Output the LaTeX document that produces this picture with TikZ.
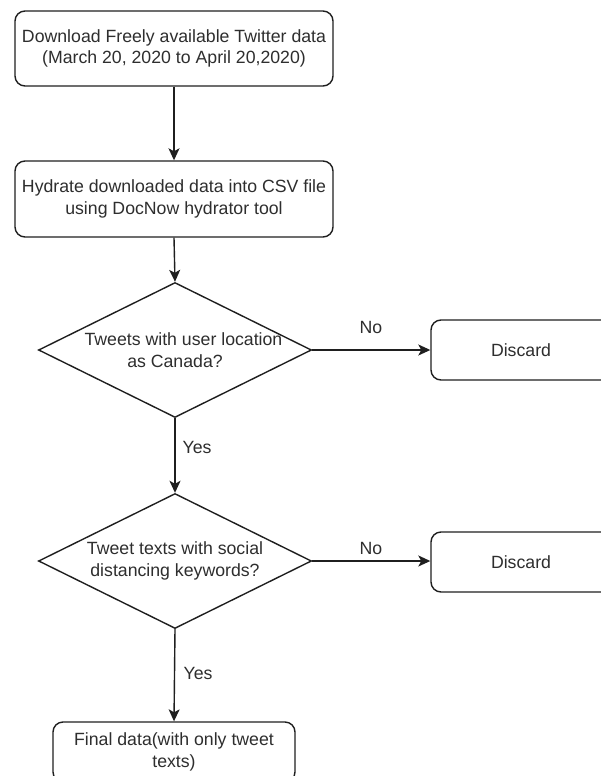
\documentclass[tikz,border=0pt]{standalone}
\usepackage{fontspec}
\setmainfont{Liberation Sans}
\usetikzlibrary{shapes.geometric,arrows.meta}
\definecolor{txt}{rgb}{0.18,0.18,0.18}
\definecolor{ln}{rgb}{0.12,0.12,0.12}
\begin{document}
\begin{tikzpicture}[x=1pt,y=-1pt,
  every node/.style={font=\fontsize{17.7}{21.5}\selectfont, text=txt},
  procbox/.style={draw=ln, line width=1.4pt, rounded corners=10pt, align=center, inner sep=0pt},
  decbox/.style={draw=ln, line width=1.4pt, shape=diamond, inner sep=0pt, minimum width=273pt, minimum height=135pt},
  conn/.style={draw=ln, line width=1.4pt, -{Stealth[length=12pt,width=11pt,inset=3pt]}},
  lbl/.style={inner sep=0pt}
]
\clip (0,0) rectangle (601,776);
\fill[white] (0,0) rectangle (601,776);

\node[procbox, minimum width=318pt, minimum height=75pt] (b1) at (174,48.5)
  {Download Freely available Twitter data\\(March 20, 2020 to April 20,2020)};
\node[procbox, minimum width=318pt, minimum height=76pt] (b2) at (174,199)
  {Hydrate downloaded data into CSV file\\using DocNow hydrator tool};

\node[decbox] (d1) at (175,350) {};
\node[align=center, inner sep=0pt] (t1) at (d1.center) {\hspace*{17pt}Tweets with user location\\as Canada?};

\node[decbox] (d2) at (175,561) {};
\node[align=center, inner sep=0pt] (t2) at (d2.center) {Tweet texts with social\\distancing keywords?};

\node[procbox, minimum width=180pt, minimum height=60pt] (x1) at (521,350) {Discard};
\node[procbox, minimum width=180pt, minimum height=60pt] (x2) at (521,562) {Discard};

\node[procbox, minimum width=242pt, minimum height=60pt] (f) at (174,752)
  {Final data(with only tweet\\texts)};

\draw[conn] (b1.south) -- (b2.north);
\draw[conn] (b2.south) -- (d1.north);
\draw[conn] (d1.south) -- (d2.north);
\draw[conn] (d2.south) -- (f.north);
\draw[conn] (d1.east) -- (x1.west);
\draw[conn] (d2.east) -- (x2.west |- d2.east);

\node[lbl] (n1) at (371,327) {No};
\node[lbl] (n2) at (371,548) {No};
\node[lbl] (y1) at (197,447) {Yes};
\node[lbl] (y2) at (198,673) {Yes};
\end{tikzpicture}
\end{document}
